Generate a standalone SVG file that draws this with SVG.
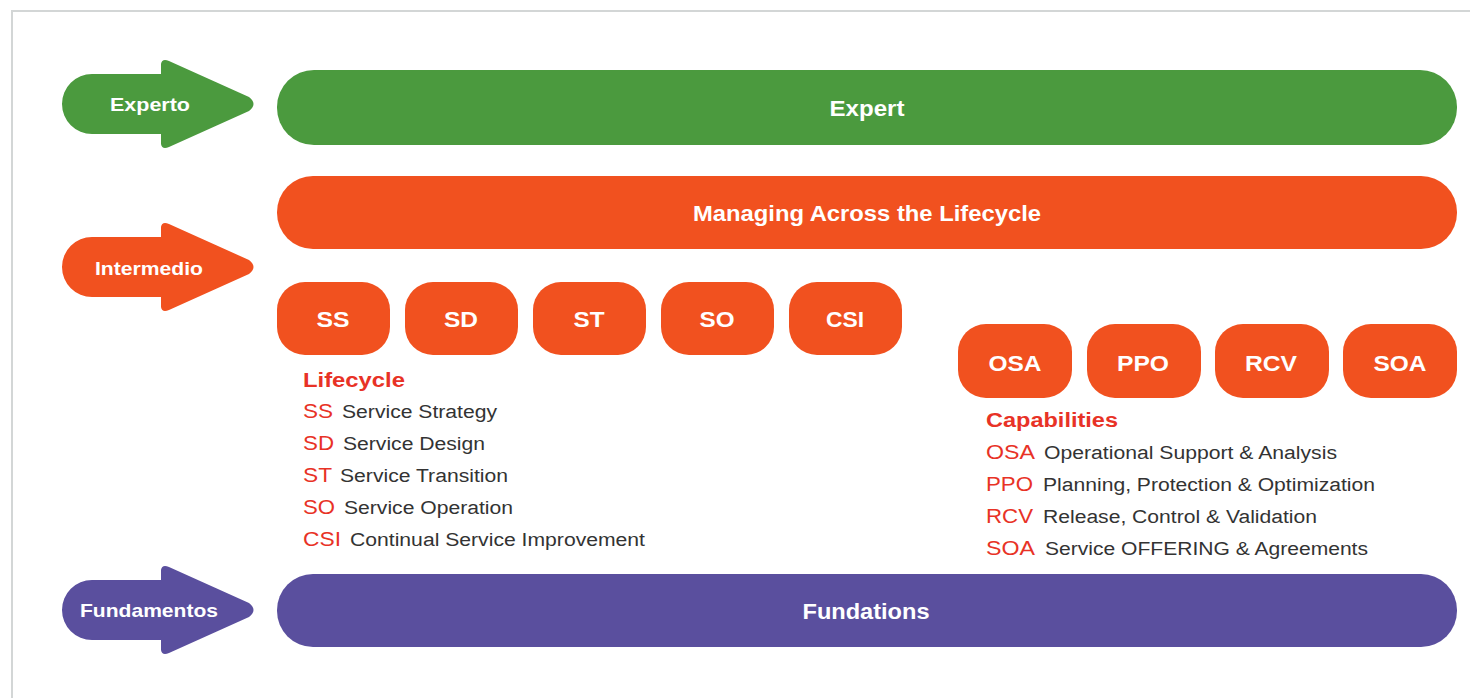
<svg xmlns="http://www.w3.org/2000/svg" width="1470" height="698" viewBox="0 0 1470 698">
  <style>
    .green { fill: #4b9a3e; }
    .orange { fill: #f1511f; }
    .purple { fill: #5a4f9e; }
    .lbl { font-family: "Liberation Sans", Arial, sans-serif; font-weight: bold; fill: #ffffff; text-anchor: middle; }
    .arrow-lbl { font-size: 19px; }
    .bar-lbl { font-size: 22px; }
    .box-lbl { font-size: 22px; }
    .leg { font-family: "Liberation Sans", Arial, sans-serif; }
    .desc { font-size: 18px; fill: #333333; }
    .key { fill: #e83226; font-size: 21px; }
    .head { fill: #e83226; font-size: 20px; font-weight: bold; }
  </style>
  <defs>
    <!-- level arrow: rounded tail, wedge head pointing right -->
    <path id="levelArrow" d="M 92,-30 L 161,-30 L 161,-40 Q 162,-46 169,-43 L 249,-7 Q 258,0 249,7 L 169,43 Q 162,46 161,40 L 161,30 L 92,30 A 30,30 0 0 1 92,-30 Z"/>
  </defs>

  <rect x="0" y="0" width="1470" height="698" fill="#ffffff"/>
  <!-- page frame -->
  <path d="M 12,698 L 12,11 L 1470,11" fill="none" stroke="#d3d6d6" stroke-width="2"/>

  <!-- level arrows -->
  <g id="experto">
    <use href="#levelArrow" class="green" transform="translate(0,104)"/>
    <text class="lbl arrow-lbl" x="150" y="111" textLength="80" lengthAdjust="spacingAndGlyphs">Experto</text>
  </g>
  <g id="intermedio">
    <use href="#levelArrow" class="orange" transform="translate(0,267)"/>
    <text class="lbl arrow-lbl" x="149" y="275" textLength="108" lengthAdjust="spacingAndGlyphs">Intermedio</text>
  </g>
  <g id="fundamentos">
    <use href="#levelArrow" class="purple" transform="translate(0,610)"/>
    <text class="lbl arrow-lbl" x="149" y="617" textLength="138" lengthAdjust="spacingAndGlyphs">Fundamentos</text>
  </g>

  <!-- level bars -->
  <g id="expert">
    <rect class="green" x="277" y="70" width="1180" height="75" rx="37"/>
    <text class="lbl bar-lbl" x="867" y="116" textLength="75" lengthAdjust="spacingAndGlyphs">Expert</text>
  </g>
  <g id="managing">
    <rect class="orange" x="277" y="176" width="1180" height="73" rx="36"/>
    <text class="lbl bar-lbl" x="867" y="221" textLength="348" lengthAdjust="spacingAndGlyphs">Managing Across the Lifecycle</text>
  </g>
  <g id="fundations">
    <rect class="purple" x="277" y="574" width="1180" height="73" rx="36"/>
    <text class="lbl bar-lbl" x="866" y="619" textLength="127" lengthAdjust="spacingAndGlyphs">Fundations</text>
  </g>

  <!-- lifecycle modules -->
  <g id="ss">
    <rect class="orange" x="277" y="282" width="113" height="73" rx="28"/>
    <text class="lbl box-lbl" x="333" y="327" textLength="33" lengthAdjust="spacingAndGlyphs">SS</text>
  </g>
  <g id="sd">
    <rect class="orange" x="405" y="282" width="113" height="73" rx="28"/>
    <text class="lbl box-lbl" x="461" y="327" textLength="34" lengthAdjust="spacingAndGlyphs">SD</text>
  </g>
  <g id="st">
    <rect class="orange" x="533" y="282" width="113" height="73" rx="28"/>
    <text class="lbl box-lbl" x="589" y="327" textLength="31" lengthAdjust="spacingAndGlyphs">ST</text>
  </g>
  <g id="so">
    <rect class="orange" x="661" y="282" width="113" height="73" rx="28"/>
    <text class="lbl box-lbl" x="717" y="327" textLength="35" lengthAdjust="spacingAndGlyphs">SO</text>
  </g>
  <g id="csi">
    <rect class="orange" x="789" y="282" width="113" height="73" rx="28"/>
    <text class="lbl box-lbl" x="845" y="327" textLength="38" lengthAdjust="spacingAndGlyphs">CSI</text>
  </g>

  <!-- capability modules -->
  <g id="osa">
    <rect class="orange" x="958" y="324" width="114" height="74" rx="28"/>
    <text class="lbl box-lbl" x="1015" y="371" textLength="53" lengthAdjust="spacingAndGlyphs">OSA</text>
  </g>
  <g id="ppo">
    <rect class="orange" x="1087" y="324" width="114" height="74" rx="28"/>
    <text class="lbl box-lbl" x="1143" y="371" textLength="52" lengthAdjust="spacingAndGlyphs">PPO</text>
  </g>
  <g id="rcv">
    <rect class="orange" x="1215" y="324" width="114" height="74" rx="28"/>
    <text class="lbl box-lbl" x="1271" y="371" textLength="52" lengthAdjust="spacingAndGlyphs">RCV</text>
  </g>
  <g id="soa">
    <rect class="orange" x="1343" y="324" width="114" height="74" rx="28"/>
    <text class="lbl box-lbl" x="1400" y="371" textLength="53" lengthAdjust="spacingAndGlyphs">SOA</text>
  </g>

  <!-- lifecycle legend -->
  <g id="lifecycle-legend" class="leg">
    <text class="head" x="303" y="387" textLength="102" lengthAdjust="spacingAndGlyphs">Lifecycle</text>
    <text class="key" x="303" y="418" textLength="30" lengthAdjust="spacingAndGlyphs">SS</text>
    <text class="desc" x="342" y="418" textLength="155" lengthAdjust="spacingAndGlyphs">Service Strategy</text>
    <text class="key" x="303" y="450" textLength="31" lengthAdjust="spacingAndGlyphs">SD</text>
    <text class="desc" x="343" y="450" textLength="142" lengthAdjust="spacingAndGlyphs">Service Design</text>
    <text class="key" x="303" y="482" textLength="29" lengthAdjust="spacingAndGlyphs">ST</text>
    <text class="desc" x="340" y="482" textLength="168" lengthAdjust="spacingAndGlyphs">Service Transition</text>
    <text class="key" x="303" y="514" textLength="32" lengthAdjust="spacingAndGlyphs">SO</text>
    <text class="desc" x="344" y="514" textLength="169" lengthAdjust="spacingAndGlyphs">Service Operation</text>
    <text class="key" x="303" y="546" textLength="38" lengthAdjust="spacingAndGlyphs">CSI</text>
    <text class="desc" x="350" y="546" textLength="295" lengthAdjust="spacingAndGlyphs">Continual Service Improvement</text>
  </g>

  <!-- capabilities legend -->
  <g id="capabilities-legend" class="leg">
    <text class="head" x="986" y="427" textLength="132" lengthAdjust="spacingAndGlyphs">Capabilities</text>
    <text class="key" x="986" y="459" textLength="49" lengthAdjust="spacingAndGlyphs">OSA</text>
    <text class="desc" x="1044" y="459" textLength="293" lengthAdjust="spacingAndGlyphs">Operational Support &amp; Analysis</text>
    <text class="key" x="986" y="491" textLength="47" lengthAdjust="spacingAndGlyphs">PPO</text>
    <text class="desc" x="1043" y="491" textLength="332" lengthAdjust="spacingAndGlyphs">Planning, Protection &amp; Optimization</text>
    <text class="key" x="986" y="523" textLength="47" lengthAdjust="spacingAndGlyphs">RCV</text>
    <text class="desc" x="1043" y="523" textLength="274" lengthAdjust="spacingAndGlyphs">Release, Control &amp; Validation</text>
    <text class="key" x="986" y="555" textLength="49" lengthAdjust="spacingAndGlyphs">SOA</text>
    <text class="desc" x="1045" y="555" textLength="323" lengthAdjust="spacingAndGlyphs">Service OFFERING &amp; Agreements</text>
  </g>

  <g id="connectors"/>
</svg>
